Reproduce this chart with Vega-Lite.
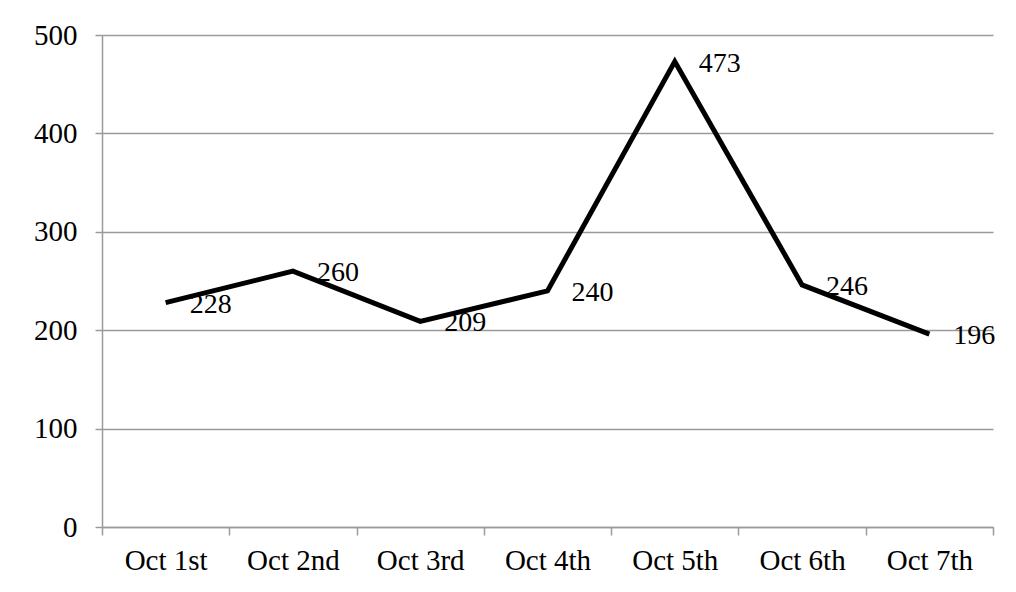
{
  "$schema": "https://vega.github.io/schema/vega-lite/v6.json",
  "autosize": "none",
  "width": 891,
  "height": 492,
  "padding": {"left": 102, "top": 35, "right": 23, "bottom": 65},
  "background": "white",
  "config": {"view": {"stroke": null}, "font": "Liberation Serif"},
  "data": {"values": [
    {"day": "Oct 1st", "value": 228},
    {"day": "Oct 2nd", "value": 260},
    {"day": "Oct 3rd", "value": 209},
    {"day": "Oct 4th", "value": 240},
    {"day": "Oct 5th", "value": 473},
    {"day": "Oct 6th", "value": 246},
    {"day": "Oct 7th", "value": 196}
  ]},
  "encoding": {
    "x": {"field": "day", "type": "ordinal", "sort": null,
      "scale": {"type": "band", "paddingInner": 0, "paddingOuter": 0},
      "axis": {"title": null, "labelAngle": 0, "tickBand": "extent", "grid": false,
        "domainColor": "#9a9a9a", "domainWidth": 1.5, "tickColor": "#9a9a9a", "tickWidth": 1.5, "tickSize": 8,
        "labelFont": "Liberation Serif", "labelFontSize": 29, "labelColor": "#000", "labelPadding": 11}},
    "y": {"field": "value", "type": "quantitative",
      "scale": {"domain": [0, 500], "nice": false},
      "axis": {"title": null, "values": [0, 100, 200, 300, 400, 500], "grid": true,
        "gridColor": "#9a9a9a", "gridWidth": 1.5, "domainColor": "#9a9a9a", "domainWidth": 1.5,
        "tickColor": "#9a9a9a", "tickWidth": 1.5, "tickSize": 7,
        "labelFont": "Liberation Serif", "labelFontSize": 29, "labelColor": "#000", "labelPadding": 18}}
  },
  "layer": [
    {"mark": {"type": "line", "color": "#000", "strokeWidth": 5, "strokeJoin": "miter"}},
    {"mark": {"type": "text", "align": "left", "baseline": "middle", "dx": 24, "dy": 2,
      "font": "Liberation Serif", "fontSize": 28, "color": "#000"},
      "encoding": {"text": {"field": "value", "type": "quantitative"}}}
  ]
}
